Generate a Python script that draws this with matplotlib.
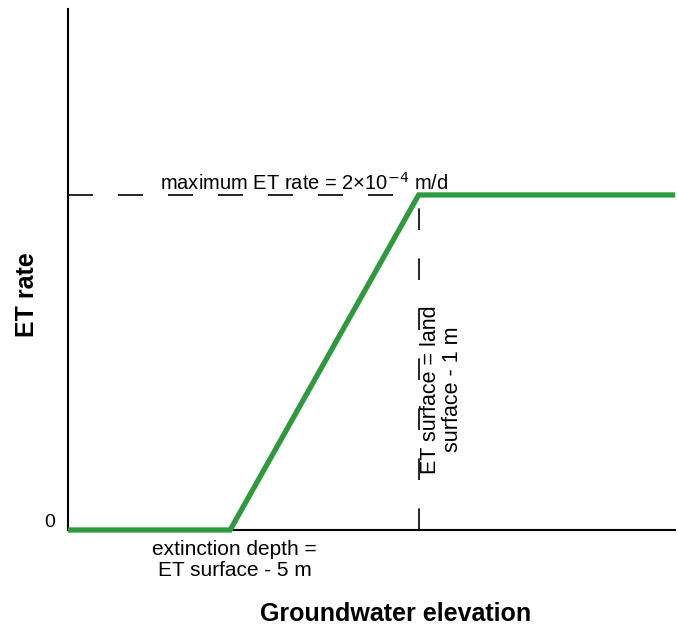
import matplotlib
matplotlib.use("Agg")
import matplotlib.pyplot as plt

plt.rcParams["font.family"] = ["Liberation Sans", "DejaVu Sans"]

# groundwater elevation relative to the ET surface (m) and the ET rate (m/d)
elevation = [-9.3, -5.0, 0.0, 6.8]
et_rate = [0.0, 0.0, 2e-4, 2e-4]
et_max = 2e-4
extinction = -5.0
et_surface = 0.0

fig = plt.figure(figsize=(6.78, 6.25), dpi=100)
ax = fig.add_axes([0.1003, 0.152, 0.8953, 0.8336])

ax.set_xlim(elevation[0], elevation[-1])
ax.set_ylim(0, 3.11e-4)

# reference lines for the max rate and the ET surface
ax.plot([elevation[0], et_surface], [et_max, et_max], color="black", lw=1.2,
        linestyle=(0, (15, 15)), zorder=2)
ax.plot([et_surface, et_surface], [0, et_max], color="black", lw=1.2,
        linestyle=(0, (13, 17)), zorder=2)

ax.plot(elevation, et_rate, color="#2e9a3e", lw=3.8, solid_capstyle="butt",
        solid_joinstyle="miter", clip_on=False, zorder=3)

for side in ["top", "right"]:
    ax.spines[side].set_visible(False)
for side in ["left", "bottom"]:
    ax.spines[side].set_linewidth(1.5)
ax.set_xticks([])
ax.set_yticks([])

ax.text(-0.022, 0.015, "0", ha="right", va="center", fontsize=14,
        transform=ax.transAxes)

ax.text(-3.04, 2.07e-4, "maximum ET rate = 2×10$^{-4}$ m/d", ha="center",
        va="center", fontsize=14.5)
ax.text(0.6, 0.84e-4, "ET surface = land\nsurface - 1 m", rotation=90,
        ha="center", va="center", multialignment="center", fontsize=15.5,
        linespacing=1.05)
ax.text(extinction + 0.12, -0.18e-4, "extinction depth =\nET surface - 5 m",
        ha="center", va="center", multialignment="center", fontsize=15,
        linespacing=1.15, clip_on=False)

ax.set_ylabel("ET rate", fontsize=18, fontweight="bold")
ax.yaxis.set_label_coords(-0.047, 0.451)
fig.text(0.584, -0.001, "Groundwater elevation", ha="center", va="bottom",
         fontsize=18, fontweight="bold")

fig.savefig("out.png", dpi=100)
